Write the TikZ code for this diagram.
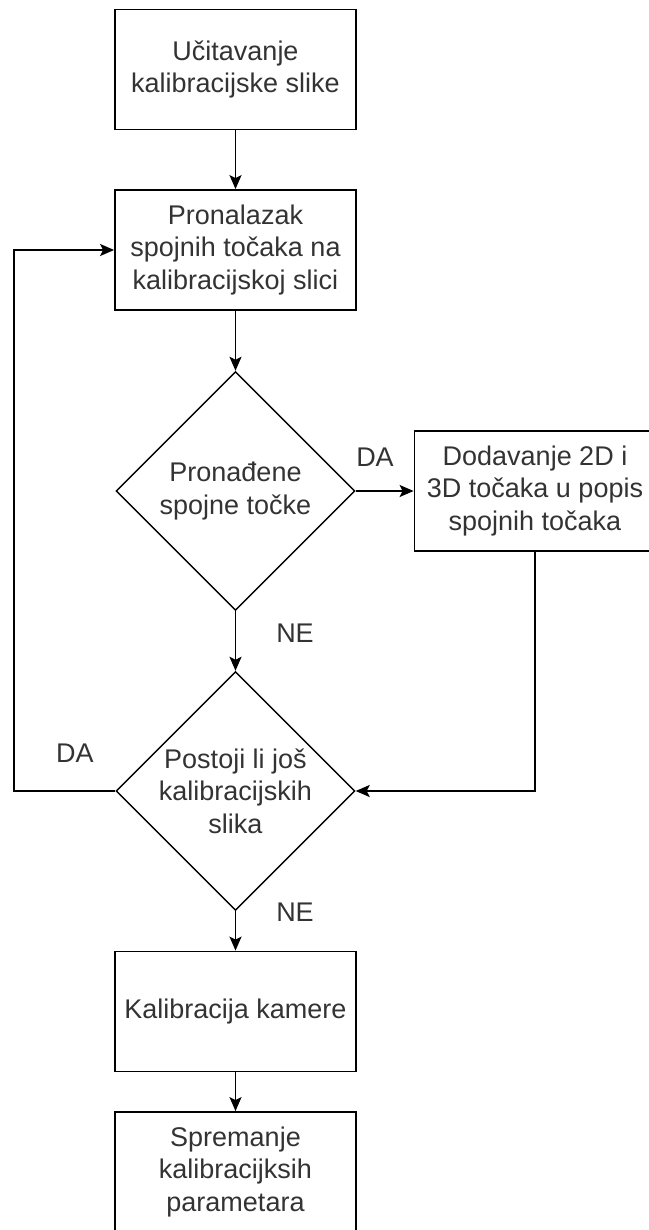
\documentclass[tikz,border=0pt]{standalone}
\usepackage{fontspec}
\setmainfont{Liberation Sans}
\usetikzlibrary{shapes.geometric,arrows.meta}

\begin{document}
\begin{tikzpicture}[x=1pt,y=-1pt]
	\tikzstyle{proc}=[draw,line width=1.8pt,minimum width=241pt,minimum height=120pt,inner sep=0pt,align=center,text=black!80,font=\fontsize{27}{32.4}\selectfont]
	\tikzstyle{cond}=[diamond,draw,line width=1.4pt,minimum width=239pt,minimum height=239pt,inner sep=0pt,align=center,text=black!80,font=\fontsize{27}{32.4}\selectfont]
	\tikzstyle{lbl}=[text=black!80,font=\fontsize{27}{32.4}\selectfont]
	\tikzstyle{flow}=[-{Stealth[length=14pt,width=12pt,inset=3pt]},line width=1.8pt]

	\useasboundingbox (0,0) rectangle (648,1230);

	\node [proc] (load_img) at (235.5,69.5) {Učitavanje\\kalibracijske slike};
	\node [proc] (find_pts) at (235.5,250) {Pronalazak\\spojnih točaka na\\kalibracijskoj slici};
	\node [cond] (pts_found) at (235.5,491) {Pronađene\\spojne točke};
	\node [proc] (add_pts) at (535,491) {Dodavanje 2D i\\3D točaka u popis\\spojnih točaka};
	\node [cond] (more_img) at (235.5,791) {Postoji li još\\kalibracijskih\\slika};
	\node [proc] (calib_cam) at (235.5,1011.5) {Kalibracija kamere};
	\node [proc] (save_par) at (235.5,1172) {Spremanje\\kalibracijksih\\parametara};

	\node [lbl] (da_found) at (375,457) {DA};
	\node [lbl] (ne_found) at (295,633) {NE};
	\node [lbl] (da_more) at (75,753) {DA};
	\node [lbl] (ne_more) at (295,912) {NE};

	\coordinate (loop_back) at (14,791);

	\foreach \source/\dest in
	{load_img/find_pts,find_pts/pts_found,pts_found/more_img,more_img/calib_cam,calib_cam/save_par,pts_found/add_pts}
	  \draw [flow](\source) to (\dest);

	\draw [flow](more_img.west) -- (loop_back) |- (find_pts.west);
	\draw [flow](add_pts) |- (more_img.east);
\end{tikzpicture}
\end{document}
